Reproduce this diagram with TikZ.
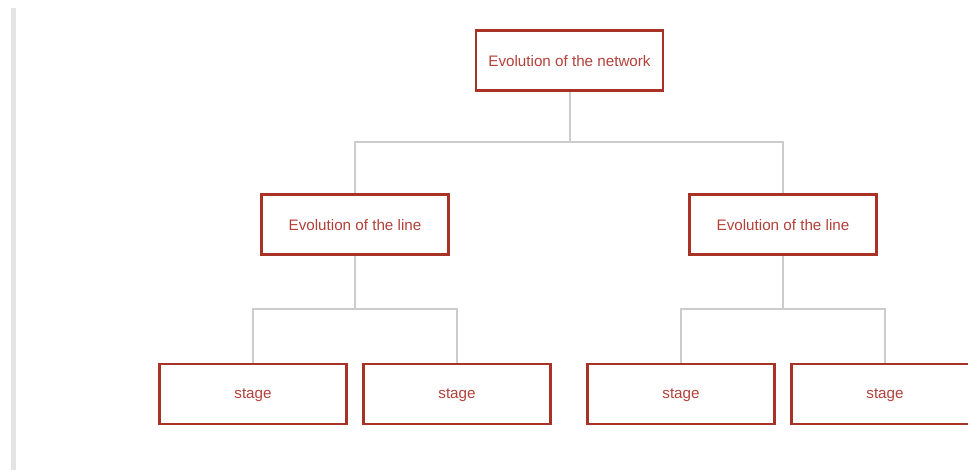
\documentclass[tikz,border=0pt]{standalone}
\usepackage{fontspec}
\setmainfont{Liberation Sans}
\definecolor{boxred}{HTML}{A93226}
\definecolor{txtred}{HTML}{B3413A}
\definecolor{linkgray}{HTML}{CCCCCC}
\definecolor{bargray}{HTML}{E4E4E4}
\begin{document}
\begin{tikzpicture}[x=1pt,y=-1pt,
  treebox/.style={draw=boxred,line width=1.6pt,fill=white,minimum width=186pt,
    minimum height=59pt,inner sep=0pt,text=txtred,text depth=0pt,
    font=\fontsize{15.2}{17}\selectfont},
  link/.style={draw=linkgray,line width=2pt}]
  \useasboundingbox (0,0) rectangle (968,470);
  \fill[white] (0,0) rectangle (968,470);
  % side rule
  \fill[bargray] (11,8) rectangle (16,470);
  % nodes
  \node[treebox] (root) at (569.5,60.5) {Evolution of the network};
  \node[treebox] (lineA) at (355,224.5) {Evolution of the line};
  \node[treebox] (lineB) at (783,224.5) {Evolution of the line};
  \node[treebox] (s1) at (253,394) {stage};
  \node[treebox] (s2) at (457,394) {stage};
  \node[treebox] (s3) at (681,394) {stage};
  \node[treebox] (s4) at (885,394) {stage};
  % connectors
  \coordinate (j0) at (569.5,142);
  \coordinate (jA) at (355,309);
  \coordinate (jB) at (783,309);
  \draw[link] (root.south) -- (j0);
  \draw[link] (lineA.north) |- (j0) -| (lineB.north);
  \draw[link] (lineA.south) -- (jA);
  \draw[link] (s1.north) |- (jA) -| (s2.north);
  \draw[link] (lineB.south) -- (jB);
  \draw[link] (s3.north) |- (jB) -| (s4.north);
  % redraw box outlines above connector ends
  \foreach \n in {root,lineA,lineB,s1,s2,s3,s4}{
    \draw[boxred,line width=1.6pt] (\n.north west) rectangle (\n.south east);
  }
\end{tikzpicture}
\end{document}
